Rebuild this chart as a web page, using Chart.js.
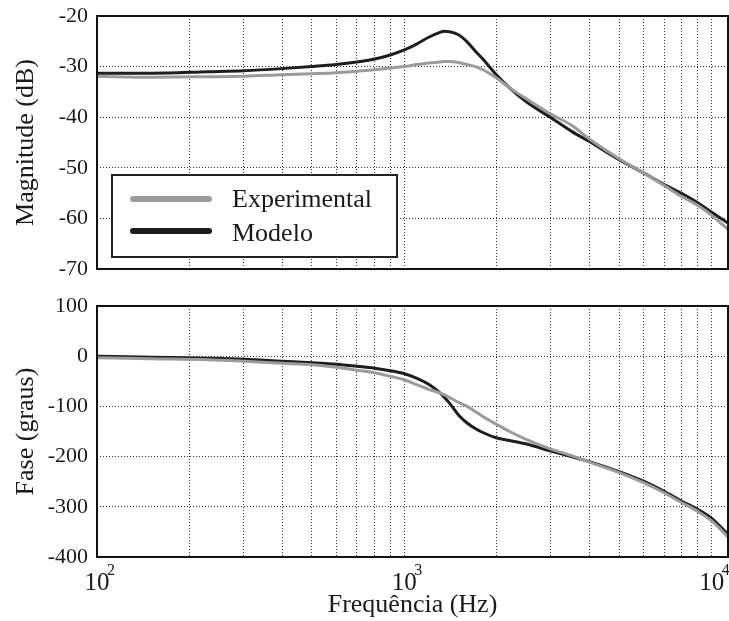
<!DOCTYPE html>
<html>
<head>
<meta charset="utf-8">
<script src="https://cdn.jsdelivr.net/npm/chart.js@4.4.1/dist/chart.umd.min.js"></script>
<style>
  html, body { margin: 0; padding: 0; background: #fff; }
  #wrap { position: relative; width: 729px; height: 621px; }
  #c1 { position: absolute; left: 0; top: 0; }
  #c2 { position: absolute; left: 0; top: 290px; }
</style>
</head>
<body>
<div id="wrap">
  <canvas id="c1" width="729" height="290"></canvas>
  <canvas id="c2" width="729" height="331"></canvas>
</div>
<script>
// ---- Data ----
const freqs = [100, 150, 230, 300, 400, 500, 600, 700, 800, 900, 1000, 1100, 1200, 1300, 1350, 1400, 1500, 1600, 1700, 1800, 2000, 2200, 2500, 3000, 3500, 4000, 5000, 6000, 7000, 8000, 9000, 10000, 11300];
const magExperimental = [-31.9, -32.1, -32.0, -31.9, -31.6, -31.4, -31.2, -30.9, -30.6, -30.3, -30.0, -29.6, -29.3, -29.1, -29.0, -29.0, -29.2, -29.6, -30.0, -30.6, -32.3, -34.2, -36.4, -39.4, -41.6, -44.3, -48.2, -51.0, -53.5, -55.7, -57.4, -59.4, -62.2];
const magModelo = [-31.3, -31.3, -31.0, -30.8, -30.4, -30.0, -29.6, -29.1, -28.5, -27.7, -26.7, -25.5, -24.2, -23.3, -23.0, -23.1, -23.7, -25.1, -26.9, -28.5, -31.7, -34.2, -37.0, -40.1, -42.8, -44.8, -48.4, -51.0, -53.3, -55.1, -56.9, -58.8, -60.9];
const phaseExperimental = [-3, -5, -7, -10, -14, -17, -22, -28, -33, -40, -47, -57, -66, -73, -77, -82, -92, -100, -110, -120, -136, -150, -166, -185, -198, -211, -232, -252, -272, -292, -309, -328, -360];
const phaseModelo = [0, -2, -4, -6, -10, -13, -16, -20, -24, -29, -35, -44, -56, -72, -82, -93, -117, -133, -144, -152, -163, -168, -175, -189, -200, -210, -230, -249, -269, -289, -305, -323, -355];
const seriesLabels = ['Experimental', 'Modelo'];
const magTicks = { min: -70, max: -20, step: 10 };
const phaseTicks = { min: -400, max: 100, step: 100 };
const xRange = { min: 100, max: 11300 };
const xDecades = [2, 3, 4];
const xLabelTitle = 'Frequência (Hz)';
const yTitles = ['Magnitude (dB)', 'Fase (graus)'];

// ---- Styling ----
const FONT = '"Liberation Serif", "Times New Roman", serif';
const COL_EXP = '#9b9b9b';
const COL_MOD = '#1e1e1e';
const TXT = '#1a1a1a';

function logGridTicks(axis) {
  const t = [];
  for (let d = 100; d <= 10000; d *= 10) {
    for (let m = 1; m <= 9; m++) {
      const v = m * d;
      if (v >= axis.min && v <= axis.max) t.push({ value: v });
    }
  }
  axis.ticks = t;
}

const boxPlugin = {
  id: 'box',
  afterDraw(chart) {
    const { ctx, chartArea: a } = chart;
    ctx.save();
    ctx.strokeStyle = '#111';
    ctx.lineWidth = 2;
    ctx.strokeRect(a.left, a.top, a.right - a.left, a.bottom - a.top);
    ctx.restore();
  }
};

// x tick labels in the "10 with superscript exponent" style
const decadeLabels = {
  id: 'decadeLabels',
  afterDraw(chart) {
    const { ctx, chartArea: a } = chart;
    const sx = chart.scales.x;
    ctx.save();
    ctx.fillStyle = TXT;
    xDecades.forEach(e => {
      const px = sx.getPixelForValue(Math.pow(10, e));
      ctx.font = '25px ' + FONT;
      ctx.textAlign = 'center';
      ctx.textBaseline = 'alphabetic';
      ctx.fillText('10', px, a.bottom + 33);
      ctx.font = '16px ' + FONT;
      ctx.textAlign = 'left';
      ctx.fillText(String(e), px + 10, a.bottom + 18);
    });
    ctx.restore();
  }
};

const legendPlugin = {
  id: 'customLegend',
  afterDraw(chart) {
    const { ctx, chartArea: a } = chart;
    const x0 = a.left + 15, y0 = a.top + 159, w = 285, h = 82;
    ctx.save();
    ctx.fillStyle = '#fff';
    ctx.fillRect(x0, y0, w, h);
    ctx.strokeStyle = '#222';
    ctx.lineWidth = 2;
    ctx.strokeRect(x0, y0, w, h);
    chart.data.datasets.forEach((ds, i) => {
      const y = y0 + 24 + i * 32;
      ctx.strokeStyle = ds.borderColor;
      ctx.lineWidth = 6;
      ctx.lineCap = 'round';
      ctx.beginPath();
      ctx.moveTo(x0 + 21, y);
      ctx.lineTo(x0 + 97, y);
      ctx.stroke();
      ctx.fillStyle = TXT;
      ctx.font = '26px ' + FONT;
      ctx.textBaseline = 'alphabetic';
      ctx.textAlign = 'left';
      ctx.fillText(ds.label, x0 + 120, y + 8 + i * 2);
    });
    ctx.restore();
  }
};

function makeDatasets(expArr, modArr) {
  return [
    { label: seriesLabels[0], data: freqs.map((f, i) => ({ x: f, y: expArr[i] })), borderColor: COL_EXP, borderWidth: 3, pointRadius: 0, cubicInterpolationMode: 'monotone' },
    { label: seriesLabels[1], data: freqs.map((f, i) => ({ x: f, y: modArr[i] })), borderColor: COL_MOD, borderWidth: 3, pointRadius: 0, cubicInterpolationMode: 'monotone' }
  ];
}

function xScale(showTitle) {
  return {
    type: 'logarithmic',
    min: xRange.min, max: xRange.max,
    afterBuildTicks: logGridTicks,
    afterFit: (ax) => { ax.height = showTitle ? 64 : 21; ax.paddingLeft = 0; ax.paddingRight = 0; },
    grid: { color: '#333', lineWidth: 1, drawTicks: false },
    border: { display: false, dash: [1, 2] },
    ticks: { display: false },
    title: showTitle ? { display: true, text: xLabelTitle, color: TXT, font: { family: FONT, size: 26 }, padding: { top: 0, bottom: 0 } } : { display: false }
  };
}
function yScale(t, title) {
  return {
    min: t.min, max: t.max,
    afterFit: (ax) => { ax.width = 97; ax.paddingTop = 0; ax.paddingBottom = 0; },
    grid: { color: '#333', lineWidth: 1, drawTicks: false },
    border: { display: false, dash: [1, 2] },
    ticks: { stepSize: t.step, padding: 9, color: TXT, font: { family: FONT, size: 22 } },
    title: { display: true, text: title, color: TXT, font: { family: FONT, size: 26 }, padding: { top: 11, bottom: 0 } }
  };
}

function common(padTop) {
  return {
    responsive: false, animation: false,
    layout: { padding: { top: padTop, right: 1, left: 0, bottom: 0 } },
    plugins: { legend: { display: false }, tooltip: { enabled: false } },
    elements: { line: { tension: 0 } }
  };
}

new Chart(document.getElementById('c1'), {
  type: 'line',
  data: { datasets: makeDatasets(magExperimental, magModelo) },
  options: Object.assign(common(16), { scales: { x: xScale(false), y: yScale(magTicks, yTitles[0]) } }),
  plugins: [boxPlugin, legendPlugin]
});

new Chart(document.getElementById('c2'), {
  type: 'line',
  data: { datasets: makeDatasets(phaseExperimental, phaseModelo) },
  options: Object.assign(common(16), { scales: { x: xScale(true), y: yScale(phaseTicks, yTitles[1]) } }),
  plugins: [boxPlugin, decadeLabels]
});
</script>
</body>
</html>
